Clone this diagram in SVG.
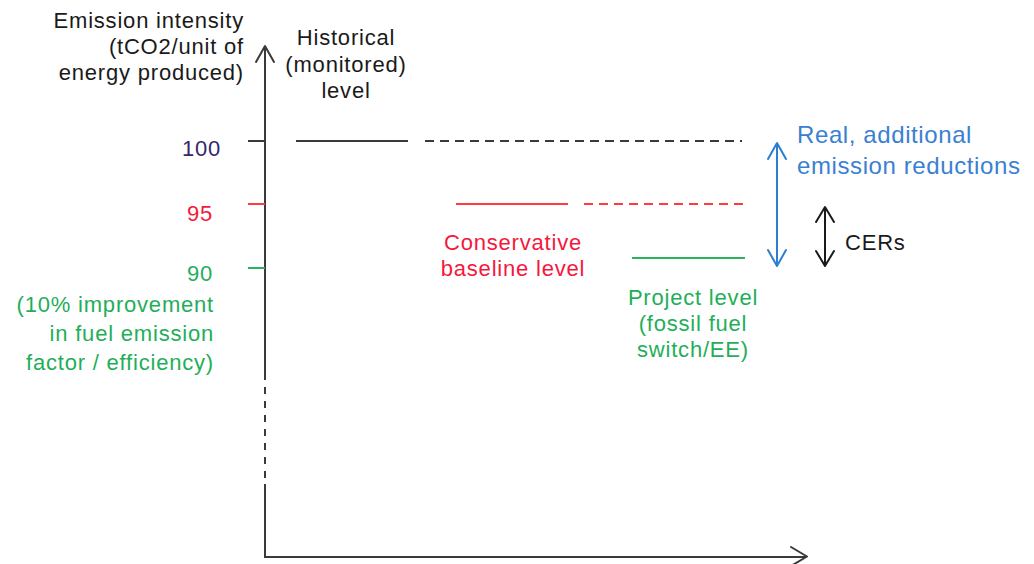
<svg xmlns="http://www.w3.org/2000/svg" width="1034" height="564" viewBox="0 0 1034 564">
<style>
text{font-family:"Liberation Sans",Arial,sans-serif;font-size:22px;letter-spacing:0.8px}
.k{fill:#1a1a1a}
.n{fill:#35266e}
.r{fill:#f5183c}
.g{fill:#1fae5a}
.b{fill:#3a80d2;font-size:24px;letter-spacing:0.6px}
.e{text-anchor:end}
.m{text-anchor:middle}
.ax{stroke:#3a3a3a;stroke-width:2;fill:none}
.hd{stroke:#3a3a3a;stroke-width:2;fill:none;stroke-linecap:round;stroke-linejoin:round}
</style>
<rect width="1034" height="564" fill="#ffffff"/>
<g id="connectors">
<!-- axes -->
<path class="ax" d="M265 46 V380"/>
<path class="ax" d="M265 387 V480" stroke-dasharray="7 7"/>
<path class="ax" d="M265 484 V557 H806"/>
<path class="hd" d="M256 62 L265 46 L274 62"/>
<path class="hd" d="M791 547 L807 556.5 L791 566"/>
<!-- ticks -->
<path d="M248 141 H265" stroke="#3a3a3a" stroke-width="2"/>
<path d="M248 204 H265" stroke="#ff3b3b" stroke-width="2"/>
<path d="M248 268 H265" stroke="#2bb35e" stroke-width="2"/>
<!-- level lines -->
<path d="M296 141 H408" stroke="#3a3a3a" stroke-width="2"/>
<path d="M425 141 H742" stroke="#3a3a3a" stroke-width="2" stroke-dasharray="9 6"/>
<path d="M456 204 H568" stroke="#ff3b3b" stroke-width="2"/>
<path d="M584 204 H746" stroke="#ff3b3b" stroke-width="2" stroke-dasharray="9 6"/>
<path d="M632 258 H745" stroke="#2bb35e" stroke-width="2"/>
<!-- double arrows -->
<path d="M777 143 V266" stroke="#2a7fcf" stroke-width="2" fill="none"/>
<path d="M768 159 L777 143 L786 159 M768 250 L777 266 L786 250" stroke="#2a7fcf" stroke-width="2" fill="none" stroke-linecap="round" stroke-linejoin="round"/>
<path d="M825 207 V266" stroke="#1a1a1a" stroke-width="2" fill="none"/>
<path d="M816 222 L825 207 L834 222 M816 251 L825 266 L834 251" stroke="#1a1a1a" stroke-width="2" fill="none" stroke-linecap="round" stroke-linejoin="round"/>
</g>
<g id="axis-title">
<text class="k e" x="244" y="28">Emission intensity</text>
<text class="k e" x="244" y="54">(tCO2/unit of</text>
<text class="k e" x="244" y="80">energy produced)</text>
</g>
<g id="historical">
<text class="k m" x="346" y="45">Historical</text>
<text class="k m" x="346" y="72">(monitored)</text>
<text class="k m" x="346" y="98">level</text>
</g>
<g id="label-100"><text class="n e" x="221" y="156">100</text></g>
<g id="label-95"><text class="r e" x="213" y="221">95</text></g>
<g id="label-90">
<text class="g e" x="213" y="281">90</text>
<text class="g e" x="214" y="312">(10% improvement</text>
<text class="g e" x="214" y="341">in fuel emission</text>
<text class="g e" x="214" y="370">factor / efficiency)</text>
</g>
<g id="conservative">
<text class="r m" x="513" y="250">Conservative</text>
<text class="r m" x="513" y="276">baseline level</text>
</g>
<g id="project">
<text class="g m" x="693" y="305">Project level</text>
<text class="g m" x="693" y="331">(fossil fuel</text>
<text class="g m" x="693" y="357">switch/EE)</text>
</g>
<g id="reductions">
<text class="b" x="797" y="143">Real, additional</text>
<text class="b" x="797" y="174">emission reductions</text>
</g>
<g id="cers"><text class="k" x="845" y="250">CERs</text></g>
</svg>
